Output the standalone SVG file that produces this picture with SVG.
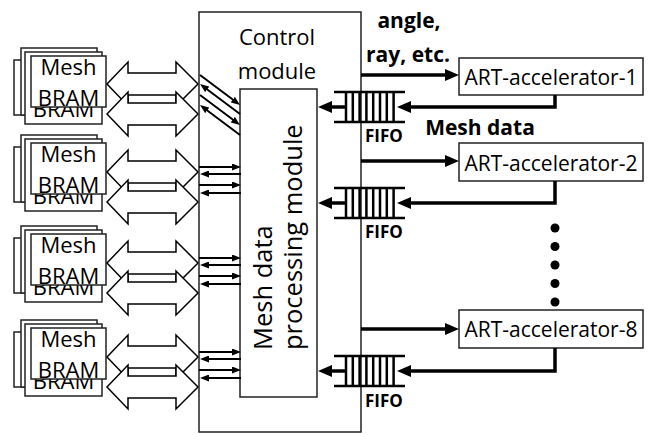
<svg xmlns="http://www.w3.org/2000/svg" width="654" height="435" viewBox="0 0 654 435">
<style>
text{font-family:"Open Sans","Liberation Sans",sans-serif;fill:#000}
.box{fill:#fff;stroke:#222;stroke-width:1.5}
.bram{font-size:22px;text-anchor:middle}
.dbl{fill:#fff;stroke:#000;stroke-width:1.5;stroke-linejoin:miter}
.thin{stroke:#000;stroke-width:2;fill:none;marker-end:url(#hs)}
.thick{stroke:#000;stroke-width:3.5;fill:none;marker-end:url(#hb)}
.fifo{stroke:#000;stroke-width:2.5;fill:none}
.fl{font-size:17px;font-weight:bold}
.lbl{font-size:21px;font-weight:bold;text-anchor:middle}
.art{font-size:21px;text-anchor:middle}
.ctl{font-size:22px;text-anchor:middle}
.rot{font-size:25.5px}
</style>
<defs>
<marker id="hb" markerUnits="userSpaceOnUse" viewBox="0 0 14 12" refX="2" refY="6" markerWidth="14" markerHeight="12" orient="auto"><path d="M0,0L14,6L0,12z" fill="#000"/></marker>
<marker id="hs" markerUnits="userSpaceOnUse" viewBox="0 0 9 7" refX="2" refY="3.5" markerWidth="9" markerHeight="7" orient="auto"><path d="M0,0L9,3.5L0,7z" fill="#000"/></marker>
<g id="stack">
<rect class="box" x="14" y="4" width="72" height="55"/>
<rect class="box" x="21" y="-8" width="76" height="67"/>
<rect class="box" x="25" y="-4" width="77" height="72"/>
<text class="bram" x="63.5" y="61">BRAM</text>
<rect class="box" x="31" y="0" width="75" height="51"/>
<text class="bram" x="68.5" y="18.5">Mesh</text>
<text class="bram" x="68.5" y="50">BRAM</text>
</g>
<path id="dbl" class="dbl" d="M107,0L128,-22L128,-11L176,-11L176,-22L198,0L176,22L176,11L128,11L128,22Z"/>
</defs>

<g id="bram1"><use href="#stack" y="56"/></g>
<g id="bram2"><use href="#stack" y="143"/></g>
<g id="bram3"><use href="#stack" y="234"/></g>
<g id="bram4"><use href="#stack" y="328"/></g>

<g id="buses">
<use href="#dbl" y="84"/><use href="#dbl" y="114"/>
<use href="#dbl" y="172"/><use href="#dbl" y="202"/>
<use href="#dbl" y="263"/><use href="#dbl" y="293"/>
<use href="#dbl" y="357"/><use href="#dbl" y="387"/>
</g>

<g id="control">
<rect class="box" x="199" y="12" width="162" height="420"/>
<text class="ctl" x="277" y="45">Control</text>
<text class="ctl" x="277" y="79">module</text>
</g>

<g id="mesh-processing">
<rect class="box" x="240" y="89" width="77" height="308"/>
<text class="rot" transform="translate(272,350) rotate(-90)">Mesh data</text>
<text class="rot" transform="translate(302,350) rotate(-90)">processing module</text>
</g>

<g id="acc1"><rect class="box" x="459" y="58" width="184" height="37" stroke-width="1"/><text class="art" x="551" y="85">ART-accelerator-1</text></g>
<g id="acc2"><rect class="box" x="459" y="143" width="184" height="38" stroke-width="1"/><text class="art" x="551" y="171">ART-accelerator-2</text></g>
<g id="acc8"><rect class="box" x="459" y="310" width="184" height="38" stroke-width="1"/><text class="art" x="551" y="337">ART-accelerator-8</text></g>

<g id="fifo1" class="fifo">
<path d="M334,92H405M334,122H405M346,92V122M352.8,92V122M359.6,92V122M366.4,92V122M373.2,92V122M380,92V122M386.8,92V122M393.6,92V122"/>
</g>
<g id="fifo2" class="fifo">
<path d="M334,188H405M334,218H405M346,188V218M352.8,188V218M359.6,188V218M366.4,188V218M373.2,188V218M380,188V218M386.8,188V218M393.6,188V218"/>
</g>
<g id="fifo8" class="fifo">
<path d="M334,356H405M334,386H405M346,356V386M352.8,356V386M359.6,356V386M366.4,356V386M373.2,356V386M380,356V386M386.8,356V386M393.6,356V386"/>
</g>

<g id="connectors">
<line class="thin" x1="200" y1="75" x2="234.4" y2="100.8"/>
<line class="thin" x1="240" y1="114" x2="205.6" y2="88.2"/>
<line class="thin" x1="200" y1="95" x2="234.4" y2="120.8"/>
<line class="thin" x1="240" y1="135" x2="205.6" y2="109.2"/>

<line class="thin" x1="199" y1="167" x2="234" y2="167"/>
<line class="thin" x1="241" y1="174" x2="207" y2="174"/>
<line class="thin" x1="199" y1="185" x2="234" y2="185"/>
<line class="thin" x1="241" y1="193" x2="207" y2="193"/>

<line class="thin" x1="199" y1="258" x2="234" y2="258"/>
<line class="thin" x1="241" y1="265" x2="207" y2="265"/>
<line class="thin" x1="199" y1="276" x2="234" y2="276"/>
<line class="thin" x1="241" y1="284" x2="207" y2="284"/>

<line class="thin" x1="199" y1="352" x2="234" y2="352"/>
<line class="thin" x1="241" y1="359" x2="207" y2="359"/>
<line class="thin" x1="199" y1="370" x2="234" y2="370"/>
<line class="thin" x1="241" y1="378" x2="207" y2="378"/>

<line class="thick" x1="361" y1="75" x2="447" y2="75"/>
<line class="thick" x1="361" y1="161" x2="447" y2="161"/>
<line class="thick" x1="361" y1="329" x2="447" y2="329"/>

<path class="thick" d="M555,95V107H409"/>
<path class="thick" d="M555,181V203H409"/>
<path class="thick" d="M555,348V371H409"/>

<line class="thick" x1="346" y1="107" x2="330" y2="107"/>
<line class="thick" x1="346" y1="203" x2="330" y2="203"/>
<line class="thick" x1="346" y1="371" x2="330" y2="371"/>
</g>

<g id="labels">
<text class="lbl" x="409" y="28">angle,</text>
<text class="lbl" x="408" y="62">ray, etc.</text>
<text class="lbl" x="480" y="135">Mesh data</text>
<text class="fl" x="365" y="142">FIFO</text>
<text class="fl" x="365" y="238">FIFO</text>
<text class="fl" x="365" y="407">FIFO</text>
</g>

<g id="dots" fill="#000">
<circle cx="555" cy="228" r="4.5"/>
<circle cx="555" cy="246.5" r="4.5"/>
<circle cx="555" cy="265" r="4.5"/>
<circle cx="555" cy="283.5" r="4.5"/>
<circle cx="555" cy="302" r="4.5"/>
</g>
</svg>
